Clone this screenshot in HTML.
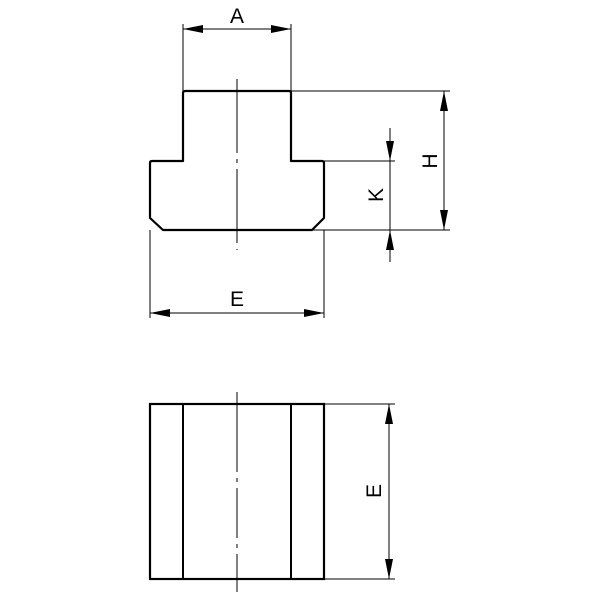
<!DOCTYPE html>
<html><head><style>body{margin:0;background:#fff}</style></head><body>
<svg width="600" height="600" viewBox="0 0 600 600" xmlns="http://www.w3.org/2000/svg">
<defs>
<marker id="ar" viewBox="0 0 20 8" refX="20" refY="4" markerWidth="20" markerHeight="8" markerUnits="userSpaceOnUse" orient="auto-start-reverse"><path d="M0,0 L20,4 L0,8 Z" fill="#000"/></marker>
</defs>
<g fill="none" stroke="#000">
<path d="M183,161 L183,93 Q183,91 185,91 L289,91 Q291,91 291,93 L291,161 L322,161 Q324,161 324,163 L324,218 L312,230 L163,230 L150,218 L150,163 Q150,161 152,161 Z" stroke-width="2.2" stroke-linejoin="round"/>
<rect x="150" y="404" width="174" height="175" stroke-width="2.2"/>
<line x1="183" y1="404" x2="183" y2="579" stroke-width="2"/>
<line x1="291" y1="404" x2="291" y2="579" stroke-width="2"/>
<g stroke-width="1">
<line x1="237" y1="79" x2="237" y2="250" stroke-dasharray="74,6,4,6"/>
<line x1="237" y1="392" x2="237" y2="592" stroke-dasharray="80,6,4,6,50,6,4,6"/>
<line x1="183" y1="24" x2="183" y2="91"/>
<line x1="291" y1="24" x2="291" y2="91"/>
<line x1="183" y1="29" x2="291" y2="29" marker-start="url(#ar)" marker-end="url(#ar)"/>
<line x1="291" y1="91" x2="450" y2="91"/>
<line x1="324" y1="161" x2="395" y2="161"/>
<line x1="312" y1="230" x2="450" y2="230"/>
<line x1="444" y1="91" x2="444" y2="230" marker-start="url(#ar)" marker-end="url(#ar)"/>
<line x1="390" y1="128" x2="390" y2="161" marker-end="url(#ar)"/>
<line x1="390" y1="262" x2="390" y2="230" marker-end="url(#ar)"/>
<line x1="390" y1="161" x2="390" y2="230"/>
<line x1="150" y1="230" x2="150" y2="318"/>
<line x1="324" y1="230" x2="324" y2="318"/>
<line x1="150" y1="313" x2="324" y2="313" marker-start="url(#ar)" marker-end="url(#ar)"/>
<line x1="324" y1="404" x2="395" y2="404"/>
<line x1="324" y1="579" x2="395" y2="579"/>
<line x1="389" y1="404" x2="389" y2="579" marker-start="url(#ar)" marker-end="url(#ar)"/>
</g>
</g>
<g font-family="Liberation Sans, sans-serif" font-size="21" text-anchor="middle" fill="#000">
<text x="237" y="23">A</text>
<text x="237" y="306">E</text>
<text transform="translate(437,161) rotate(-90)">H</text>
<text transform="translate(383,195) rotate(-90)">K</text>
<text transform="translate(381,491) rotate(-90)">E</text>
</g>
</svg>
</body></html>
